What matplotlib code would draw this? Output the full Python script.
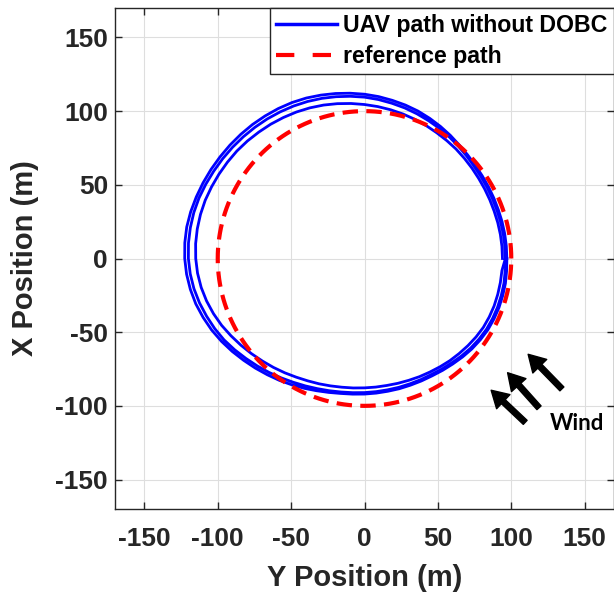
import numpy as np
import matplotlib.pyplot as plt
from matplotlib.lines import Line2D

plt.rcParams['font.family'] = ['Liberation Sans', 'DejaVu Sans']
plt.rcParams['font.weight'] = 'bold'
plt.rcParams['axes.unicode_minus'] = False

# sample headings around the loop, degrees (0 = +Y axis, counter-clockwise)
angle_deg = list(range(0, 360, 5))

# UAV distance from the circle centre on three consecutive laps (m)
lap1_r = [94, 94, 94, 94, 94, 94.2, 94.5, 94.9, 95.5, 96.2, 97, 97.7,
          98.5, 99.5, 100.5, 101.5, 102.5, 103.5, 104.5, 105.6, 106.7, 107.8, 108.8, 109.7,
          110.5, 111.3, 112, 112.8, 113.5, 114, 114.5, 115, 115.5, 115.7, 115.7, 115.5,
          115, 114.2, 113, 111.4, 109.5, 107.4, 105, 102.7, 100.5, 98.4, 96.5, 94.7,
          93, 91.6, 90.5, 89.5, 88.7, 88.2, 87.8, 87.6, 87.5, 87.7, 88, 88.5,
          89, 89.7, 90.5, 91.2, 92, 92.8, 93.5, 93.8, 94, 94, 94, 94]
lap2_r = [96, 96, 96, 96, 96, 96.2, 96.5, 96.9, 97.5, 98.4, 99.5, 100.7,
          102, 103.2, 104.5, 105.8, 107, 108.3, 109.5, 110.5, 111.5, 112.5, 113.4, 114.2,
          114.9, 115.6, 116.2, 116.8, 117.4, 118, 118.6, 119.3, 120, 120.4, 120.5, 120.4,
          120, 119.2, 118, 116.4, 114.5, 112.6, 110.5, 108, 105.5, 103.2, 101, 98.9,
          97, 95.4, 94, 92.9, 92, 91.4, 91, 90.7, 90.5, 90.5, 90.5, 90.7,
          91, 91.7, 92.5, 93.5, 94.5, 95.3, 96, 96.3, 96.5, 96.5, 96.5, 96.2]
lap3_r = [97, 97, 97, 97, 97, 97.2, 97.5, 97.9, 98.5, 99.4, 100.5, 102,
          103.5, 105, 106.5, 107.8, 109, 110.3, 111.5, 112.6, 113.7, 114.8, 115.9, 116.8,
          117.5, 118.1, 118.7, 119.2, 119.7, 120.2, 120.8, 121.4, 122, 122.6, 123, 122.9,
          122.5, 121.7, 120.5, 119, 117, 114.9, 112.5, 110, 107.5, 105.2, 103, 101,
          99, 97.2, 95.5, 94.1, 93, 92.4, 92, 91.7, 91.5, 91.5, 91.5, 91.7,
          92, 92.7, 93.5, 94.5, 95.5, 96.3, 97, 97.3, 97.5, 97.5, 97.5, 97.2]

ref_radius = 100

# wind arrows (tail -> head), in Y/X position coordinates
wind_tails = [(109.5, -111.2), (118.9, -101.3), (134.5, -88.5)]
wind_heads = [(86.3, -89.4), (97.5, -77.5), (111.5, -65.0)]

# chain the laps into one path and close the last one
theta = np.deg2rad(np.array(angle_deg * 3 + [360]))
r = np.array(lap1_r + lap2_r + lap3_r + [lap3_r[0]])
uav_y = r * np.cos(theta)
uav_x = r * np.sin(theta)

t = np.linspace(0, 2 * np.pi, 361)
ref_y = ref_radius * np.cos(t)
ref_x = ref_radius * np.sin(t)

fig = plt.figure(figsize=(6.14, 5.94), dpi=100)
ax = fig.add_axes([115 / 614, 85 / 594, 499 / 614, 501 / 594])

ax.plot(uav_y, uav_x, color='b', lw=2)
ax.plot(ref_y, ref_x, color='r', lw=3, ls='--', dashes=(3.7, 2.0))

for tail, head in zip(wind_tails, wind_heads):
    ax.annotate('', xy=head, xytext=tail,
                arrowprops=dict(facecolor='black', edgecolor='black',
                                width=4, headwidth=14, headlength=12, shrink=0))
ax.text(144.6, -111.7, 'Wind', family=['Lato', 'DejaVu Sans'], fontweight='bold',
        fontsize=16, ha='center', va='center', color='black')

ax.set_xlim(-170, 170)
ax.set_ylim(-170, 170)
ticks = list(range(-150, 151, 50))
ax.set_xticks(ticks)
ax.set_yticks(ticks)
ax.grid(True, color='#dedede', lw=0.8)
ax.set_axisbelow(True)
ax.tick_params(direction='in', top=True, right=True, length=5, width=1,
               colors='#262626', labelsize=19)
ax.tick_params(axis='x', pad=13)
ax.tick_params(axis='y', pad=5)
for s in ax.spines.values():
    s.set_color('#262626')
    s.set_linewidth(1)

ax.set_xlabel('Y Position (m)', fontsize=21, fontweight='bold', color='#262626', labelpad=9)
ax.set_ylabel('X Position (m)', fontsize=21, fontweight='bold', color='#262626', labelpad=12)

handles = [Line2D([], [], color='b', lw=2.5),
           Line2D([], [], color='r', lw=3, ls='--', dashes=(4.4, 4.4))]
leg = ax.legend(handles, ['UAV path without DOBC', 'reference path'],
                loc='upper right', borderaxespad=0, fontsize=16.7,
                handlelength=2.65, handletextpad=0.26, borderpad=0.27,
                labelspacing=0.32, fancybox=False, framealpha=1)
leg.get_frame().set_edgecolor('#262626')
leg.get_frame().set_linewidth(1)

fig.savefig('out.png', dpi=100)
